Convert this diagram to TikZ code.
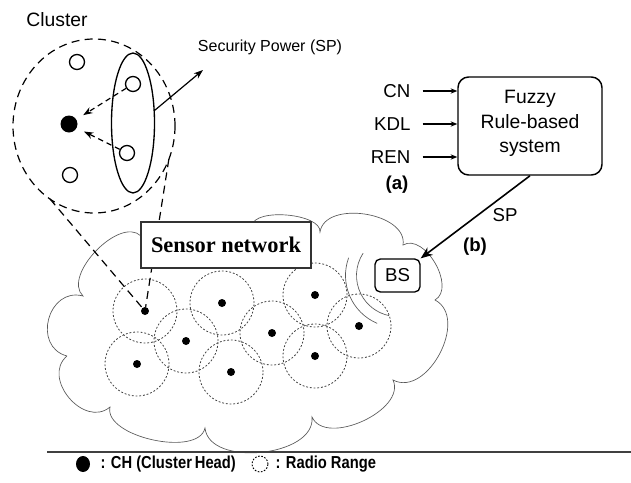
\documentclass[tikz,border=0pt]{standalone}
\usepackage{fontspec}
\setmainfont{Liberation Sans}
\newfontfamily\snfont{Liberation Serif}
\newfontfamily\legfont{Liberation Sans}[FakeStretch=0.85]
\usetikzlibrary{shapes.geometric,arrows.meta}
\tikzset{
  cloudline/.style={draw=black!65, line width=0.5pt},
  bump/.style={bend left=90, looseness=#1},
  radio/.style={circle, draw=black!75, dash pattern=on 1.4pt off 1.4pt, line width=0.6pt, minimum size=48pt, inner sep=0pt},
  chdot/.style={circle, fill=black, minimum size=6pt, inner sep=0pt},
  hollow/.style={circle, draw, line width=1pt, minimum size=11.25pt, inner sep=0pt},
  bigdash/.style={dash pattern=on 6pt off 4pt, line width=0.9pt},
  lbl/.style={font=\fontsize{14}{16}\selectfont, inner sep=1pt},
  inarrow/.style={line width=0.8pt, -{Stealth[length=5pt,width=4pt]}},
  legtxt/.style={font=\legfont\bfseries\fontsize{13}{15}\selectfont, inner sep=1pt}
}
\begin{document}
\begin{tikzpicture}[x=0.75pt,y=-0.75pt]
\useasboundingbox (0,0) rectangle (631,482);

% cloud outline
\draw[cloudline] (67,356) to[bump=1.5] (83,296)
  to[bump=0.9] (141,236) -- (252,226)
  to[bump=0.7] (320,232)
  to[bump=1.0] (403,245)
  to[bump=1.0] (435,300)
  to[bump=1.1] (393,380)
  to[bump=0.95] (312,417)
  to[bump=0.95] (205,428)
  to[bump=0.8] (110,407)
  to[bump=1.3] (67,356);

% radio ranges and cluster heads
\foreach \i/\x/\y in {1/145/311, 2/222/303, 3/186/341, 4/137/364, 5/231/372, 6/272/333, 7/315/295, 8/315/356, 9/359/326}{
  \node[radio] (r\i) at (\x,\y) {};
}
\foreach \i/\x/\y in {1/145/311, 2/222/303, 3/186/341, 4/137/364, 5/231/372, 6/272/333, 7/315/295, 8/315/356, 9/359/326}{
  \node[chdot] (d\i) at (\x,\y) {};
}

% base station
\node[draw, rounded corners=4pt, line width=1pt, minimum width=33.75pt, minimum height=24.75pt, inner sep=0pt, font=\fontsize{14}{16}\selectfont] (bs) at (397.5,275.5) {BS};
\draw[cloudline] (bs.center) ++(147:30.75pt) arc[start angle=147, end angle=258, radius=30.75pt];
\draw[cloudline] (bs.center) ++(160:39pt) arc[start angle=160, end angle=247, radius=39pt];

% cluster (magnified)
\node[lbl, font=\fontsize{14.5}{16}\selectfont] (cltxt) at (57,20) {Cluster};
\node[draw, ellipse, bigdash, minimum width=121.5pt, minimum height=130.5pt, inner sep=0pt, outer sep=0pt] (cl) at (94,126) {};
\node[draw, ellipse, line width=1pt, minimum width=32.25pt, minimum height=105pt, inner sep=0pt, outer sep=0pt] (el) at (133,123) {};
\node[circle, fill=black, minimum size=12.75pt, inner sep=0pt] (ch) at (69,124) {};
\node[hollow] (h1) at (77,62) {};
\node[hollow] (h2) at (133,84) {};
\node[hollow] (h3) at (127,153) {};
\node[hollow] (h4) at (70,175) {};
\draw[dash pattern=on 4pt off 3pt, line width=0.9pt, -{Stealth[length=7pt,width=5pt]}, shorten >=6pt] (h2) -- (ch);
\draw[dash pattern=on 4pt off 3pt, line width=0.9pt, -{Stealth[length=7pt,width=5pt]}, shorten >=6pt] (h3) -- (ch);
\coordinate (spend) at (203,70);
\draw[line width=0.9pt, -{Stealth[length=7pt,width=5pt]}] (el.30) -- (spend);
\node[font=\fontsize{12}{14}\selectfont] (spl) at (270,47) {Security Power (SP)};

% callout lines
\draw[bigdash] (cl.239) -- (d1);
\draw[bigdash] (cl.336) -- (d1);

% sensor network label
\node[draw=black!80, fill=white, line width=0.8pt, minimum width=127.5pt, minimum height=34.5pt,
  font=\snfont\bfseries\fontsize{16.8}{18}\selectfont] (sn) at (226,245) {Sensor network};

% fuzzy system
\node[draw, rounded corners=8pt, line width=1.1pt, minimum width=108pt, minimum height=73.5pt] (fz) at (530,126) {};
\node[align=center, inner sep=0pt, font=\fontsize{14.5}{18.4}\selectfont] (fztxt) at (530,123.5) {Fuzzy\\Rule-based\\system};
\node[lbl, anchor=east] (cn) at (412,91) {CN};
\node[lbl, anchor=east] (kdl) at (412,124) {KDL};
\node[lbl, anchor=east] (ren) at (412,157) {REN};
\draw[inarrow] ([xshift=8pt]cn.east) -- (cn.east -| fz.west);
\draw[inarrow] ([xshift=8pt]kdl.east) -- (kdl.east -| fz.west);
\draw[inarrow] ([xshift=8pt]ren.east) -- (ren.east -| fz.west);
\node[lbl, font=\bfseries\fontsize{14}{16}\selectfont] (la) at (397,185) {(a)};
\draw[line width=1.2pt, -{Stealth[length=9pt,width=7pt]}] (fz.south) -- (bs.north east);
\node[lbl] (splbl) at (505,215) {SP};
\node[lbl, font=\bfseries\fontsize{14}{16}\selectfont] (lb) at (475,247) {(b)};

% legend
\coordinate (ll) at (47,452);
\coordinate (lr) at (631,452);
\draw[line width=1.1pt, black!75] (ll) -- (lr);
\node[ellipse, fill=black, minimum width=10.5pt, minimum height=12pt, inner sep=0pt] (legdot) at (83,464) {};
\node[legtxt, anchor=west] (legch) at (99,464) {: CH (Cluster\,Head)};
\node[circle, draw, dash pattern=on 1.2pt off 1.2pt, line width=0.7pt, minimum size=12pt, inner sep=0pt] (legr) at (260,464) {};
\node[legtxt, anchor=west] (legrr) at (274,464) {: Radio Range};
\end{tikzpicture}
\end{document}
